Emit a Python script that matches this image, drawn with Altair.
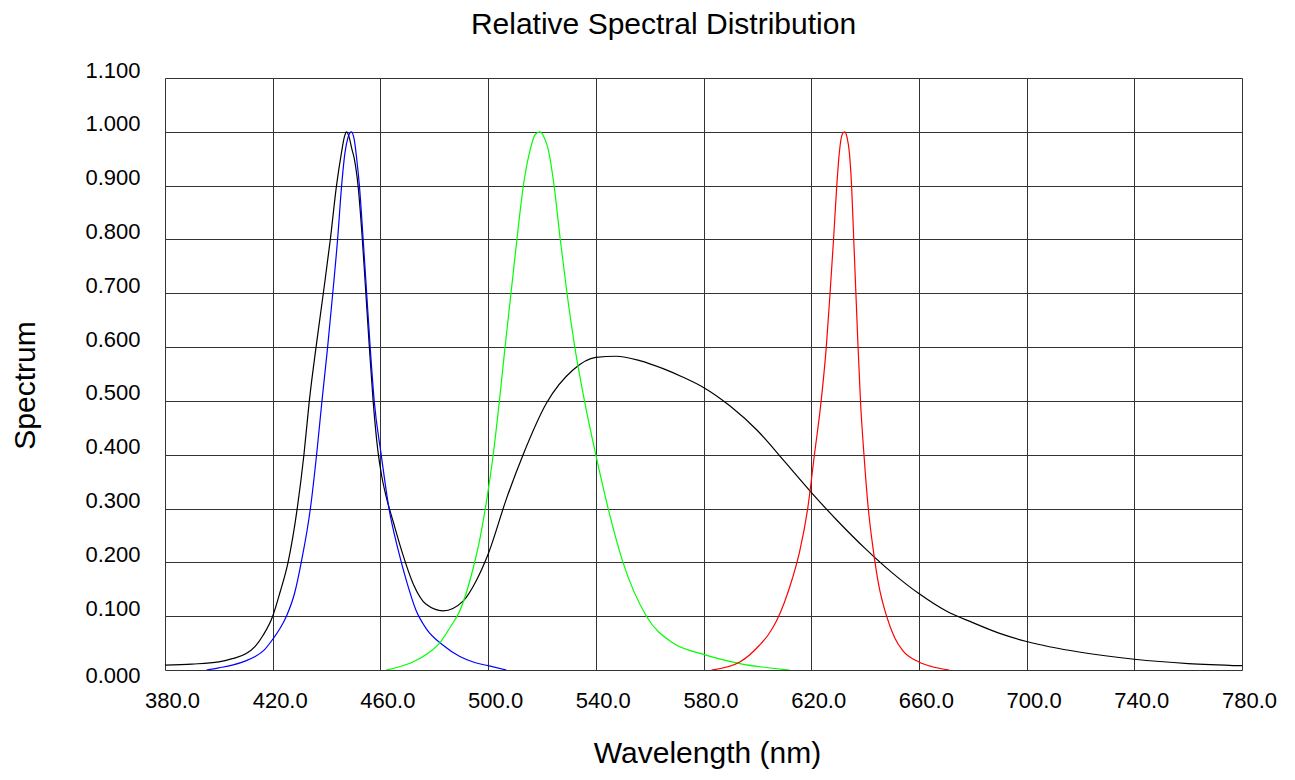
import altair as alt
import pandas as pd

# ---- data ----
white_wl = [380, 390, 400, 405, 410, 413.5, 416.5, 420, 422.7, 425.7, 429.1, 431.6, 433.6, 436.1,
            438.8, 441.4, 443.7, 445.5, 446.6, 447.4, 448.4, 449.3, 450.3, 451.7, 453.3, 454.6,
            455.9, 457.3, 459, 460.5, 462, 464.8, 468.0, 472.2, 477, 483.3, 490.7, 495.6, 500,
            506.8, 513, 521.7, 531.6, 540, 547.6, 556.3, 565, 572, 580, 590, 600, 610, 620, 630,
            640, 650, 660, 670, 680, 690, 700, 720, 740, 760, 780]
white_val = [0.009, 0.011, 0.015, 0.021, 0.03, 0.044, 0.065, 0.10, 0.144, 0.20, 0.30, 0.40, 0.50, 0.60,
             0.70, 0.80, 0.90, 0.96, 0.99, 1.00, 0.99, 0.97, 0.95, 0.90, 0.80, 0.70,
             0.60, 0.50, 0.41, 0.36, 0.325, 0.275, 0.22, 0.16, 0.122, 0.11, 0.128, 0.166, 0.215,
             0.318, 0.40, 0.496, 0.558, 0.581, 0.583, 0.575, 0.56, 0.545, 0.525, 0.49, 0.445, 0.388, 0.33, 0.276,
             0.226, 0.181, 0.142, 0.11, 0.088, 0.068, 0.053, 0.033, 0.020, 0.012, 0.008]

blue_wl = [395.4, 400, 405, 410, 413.5, 417, 420, 422.7, 425.1, 428.2, 430.6, 434, 436.3, 438.3,
           440.4, 442.3, 444.1, 445.6, 446.8, 448, 449.2, 450.3, 451.2, 452.2, 453.6, 454.9, 456.2,
           457.7, 460.3, 463.2, 466.5, 470, 473.3, 477, 483.3, 489.5, 495, 500, 506.8]
blue_val = [0.0, 0.004, 0.009, 0.017, 0.025, 0.038, 0.057, 0.077, 0.10, 0.144, 0.20, 0.30, 0.40, 0.50,
            0.60, 0.70, 0.80, 0.90, 0.96, 0.99, 1.0, 0.985, 0.95, 0.90, 0.80, 0.70, 0.60,
            0.50, 0.40, 0.30, 0.225, 0.16, 0.11, 0.077, 0.046, 0.025, 0.014, 0.008, 0.0]

green_wl = [462.2, 467, 472, 477, 482, 486, 489.5, 492, 494.5, 497, 499.3, 501.9, 504.2, 506.3, 508.5,
            510.7, 513.1, 515.5, 517.5, 519.2, 520.8, 522.2, 524.5, 526.8, 529.3, 532.2, 535.8, 540,
            544.6, 550.1, 558.8, 568.7, 580, 593.5, 612]
green_val = [0.0, 0.006, 0.015, 0.029, 0.05, 0.08, 0.11, 0.145, 0.19, 0.245, 0.31, 0.40, 0.50, 0.60, 0.70,
             0.80, 0.90, 0.964, 0.995, 1.0, 0.99, 0.97, 0.90, 0.80, 0.70, 0.60, 0.50, 0.40,
             0.30, 0.20, 0.10, 0.05, 0.029, 0.012, 0.0]

red_wl = [583, 593.5, 600.8, 604, 607, 610, 613, 615.7, 618.7, 621.2, 623.7, 625.6, 627.0, 628.3,
          629.5, 630.5, 631.5, 632.4, 633.3, 634.2, 635.0, 635.8, 636.6, 637.4, 638.3, 639.6, 641.2,
          643, 645, 648, 651, 654, 660, 665, 671.3]
red_val = [0.0, 0.015, 0.046, 0.065, 0.09, 0.125, 0.17, 0.22, 0.30, 0.40, 0.50, 0.60, 0.70, 0.80,
           0.90, 0.964, 0.995, 1.0, 0.99, 0.96, 0.90, 0.80, 0.70, 0.60, 0.50, 0.40, 0.30,
           0.225, 0.16, 0.10, 0.06, 0.036, 0.015, 0.006, 0.0]

series_names = ["White", "Blue", "Green", "Red"]
series_colors = ["#000000", "#0000ff", "#00ff00", "#ff0000"]

x_ticks = [380, 420, 460, 500, 540, 580, 620, 660, 700, 740, 780]
y_ticks = [0.0, 0.1, 0.2, 0.3, 0.4, 0.5, 0.6, 0.7, 0.8, 0.9, 1.0, 1.1]

frames = []
for name, wl, val in [("White", white_wl, white_val), ("Blue", blue_wl, blue_val),
                      ("Green", green_wl, green_val), ("Red", red_wl, red_val)]:
    frames.append(pd.DataFrame({"wl": wl, "val": val, "series": name}))
df = pd.concat(frames, ignore_index=True)

FONT = "Liberation Sans"

chart = alt.Chart(df).mark_line(strokeWidth=1.2, interpolate="monotone", clip=True).encode(
    x=alt.X("wl:Q",
            scale=alt.Scale(domain=[380, 780], nice=False, zero=False),
            axis=alt.Axis(values=x_ticks, format=".1f", title="Wavelength (nm)",
                          grid=True, gridColor="#333333", gridWidth=1, gridOpacity=1,
                          domain=False, ticks=False, labelPadding=20, labelOffset=7,
                          labelFlush=False, labelOverlap=False,
                          labelFont=FONT, labelFontSize=22, labelColor="#000000",
                          titleFont=FONT, titleFontSize=30, titleFontWeight="normal",
                          titleColor="#000000", titleBaseline="alphabetic",
                          titleX=542, titleY=92)),
    y=alt.Y("val:Q",
            scale=alt.Scale(domain=[0, 1.1], nice=False),
            axis=alt.Axis(values=y_ticks, format=".3f", title="Spectrum",
                          grid=True, gridColor="#333333", gridWidth=1, gridOpacity=1,
                          domain=False, ticks=False, labelPadding=25,
                          labelOffset={"condition": {"test": "datum.value === 0", "value": 5}, "value": -8},
                          labelFlush=False, labelOverlap=False,
                          labelFont=FONT, labelFontSize=22, labelColor="#000000",
                          titleFont=FONT, titleFontSize=30, titleFontWeight="normal",
                          titleColor="#000000", titleBaseline="middle",
                          titleX=-140, titleY=307)),
    color=alt.Color("series:N", scale=alt.Scale(domain=series_names, range=series_colors), legend=None),
    detail="series:N",
).properties(
    width=1077,
    height=592,
    autosize=alt.AutoSizeParams(type="none"),
    padding={"left": 157, "top": 70, "right": 40, "bottom": 102},
    title=alt.TitleParams("Relative Spectral Distribution", font=FONT, fontSize=30,
                          fontWeight="normal", color="#000000", anchor="middle",
                          frame="group", dx=-40, offset=-5, baseline="alphabetic"),
).configure_view(
    stroke="#555555", strokeWidth=1.5
).configure(background="#ffffff")

chart.save("out.html", embed_options={"renderer": "svg", "actions": False})
